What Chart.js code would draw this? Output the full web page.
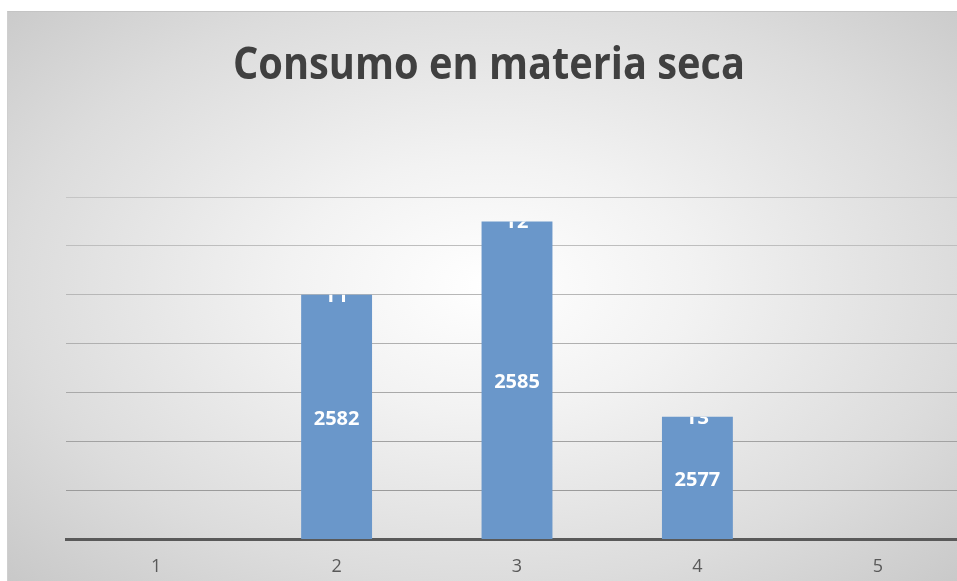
<!DOCTYPE html>
<html>
<head>
<meta charset="utf-8">
<script src="https://cdn.jsdelivr.net/npm/chart.js@4.4.1/dist/chart.umd.min.js"></script>
<style>
	html, body {
		margin: 0;
		padding: 0;
		background: #fff;
		overflow: hidden;
		width: 957px;
		height: 581px;
	}
	#box {
		position: absolute;
		left: 7px;
		top: 11px;
		width: 964px;
		height: 570px;
		border-top: 1px solid #c4c4c4;
		border-left: 1px solid #cfcfcf;
		box-sizing: border-box;
		background: radial-gradient(ellipse 70% 75% at 50% 48%, #ffffff 0%, #f2f2f2 30%, #dcdcdc 70%, #c8c8c8 100%);
	}
</style>
</head>
<body>
<div id="box"><canvas id="myChart"></canvas></div>
<script>
const categories = ['1', '2', '3', '4', '5'];
const consumo = [null, 2582, 2585, 2577, null];
const tratamientos = ['', 'T1', 'T2', 'T3', ''];
const yMin = 2572;
const yMax = 2586;
const yStep = 2;
const titulo = 'Consumo en materia seca';

const valueFont = 'bold 20px "Open Sans", sans-serif';

// title drawn by hand so it can be squeezed to the narrow width of the original
const narrowTitle = {
	id: 'narrowTitle',
	afterDraw(chart) {
		const ctx = chart.ctx;
		ctx.save();
		ctx.font = 'bold 45px "Open Sans", sans-serif';
		ctx.fillStyle = '#404040';
		ctx.textAlign = 'center';
		ctx.textBaseline = 'alphabetic';
		const w = ctx.measureText(titulo).width;
		const sx = Math.min(1, 512 / w);
		ctx.translate(481, 67);
		ctx.scale(sx, 1);
		ctx.fillText(titulo, 0, 0);
		ctx.restore();
	}
};

// labels inside bars: the value in the middle, the treatment name clipped at the top edge
const barLabels = {
	id: 'barLabels',
	afterDatasetsDraw(chart) {
		const ctx = chart.ctx;
		const base = chart.scales.y.getPixelForValue(yMin);
		const meta = chart.getDatasetMeta(0);
		meta.data.forEach((bar, i) => {
			if (consumo[i] === null) return;
			const x = bar.x;
			const top = bar.y;
			const w = bar.width;
			ctx.save();
			ctx.fillStyle = '#ffffff';
			ctx.font = valueFont;
			ctx.textAlign = 'center';
			ctx.textBaseline = 'middle';
			ctx.fillText(String(consumo[i]), x, (top + base) / 2 + 2);

			ctx.beginPath();
			ctx.rect(x - w / 2, top, w, base - top);
			ctx.clip();
			ctx.textBaseline = 'alphabetic';
			ctx.fillText(tratamientos[i], x, top + 7);
			ctx.restore();
		});
	}
};

function gridColor(c) {
	const i = c.index;
	if (i === 0) return 'rgba(0,0,0,0)';
	const v = Math.round(155 + (i - 1) * 7);
	return `rgb(${v},${v},${v})`;
}

new Chart(document.getElementById('myChart'), {
	type: 'bar',
	data: {
		labels: categories,
		datasets: [
			{
				data: consumo,
				backgroundColor: '#6a97ca',
				borderWidth: 0,
				barPercentage: 0.393,
				categoryPercentage: 1
			}
		]
	},
	options: {
		responsive: true,
		maintainAspectRatio: false,
		animation: false,
		layout: {
			padding: { left: 58, right: 3, top: 185, bottom: 0 }
		},
		plugins: {
			legend: { display: false },
			tooltip: { enabled: false },
			title: { display: false }
		},
		scales: {
			x: {
				grid: { display: false, drawTicks: false },
				border: { display: true, color: '#595959', width: 3 },
				ticks: {
					color: '#595959',
					font: { family: '"Open Sans", sans-serif', size: 18 },
					padding: 17
				},
				afterFit(scale) {
					scale.height = 42;
				}
			},
			y: {
				min: yMin,
				max: yMax,
				ticks: { display: false, stepSize: yStep },
				grid: { color: gridColor, drawTicks: false, lineWidth: 1 },
				border: { display: false },
				afterFit(scale) {
					scale.width = 0;
				}
			}
		}
	},
	plugins: [barLabels, narrowTitle]
});
</script>
</body>
</html>
